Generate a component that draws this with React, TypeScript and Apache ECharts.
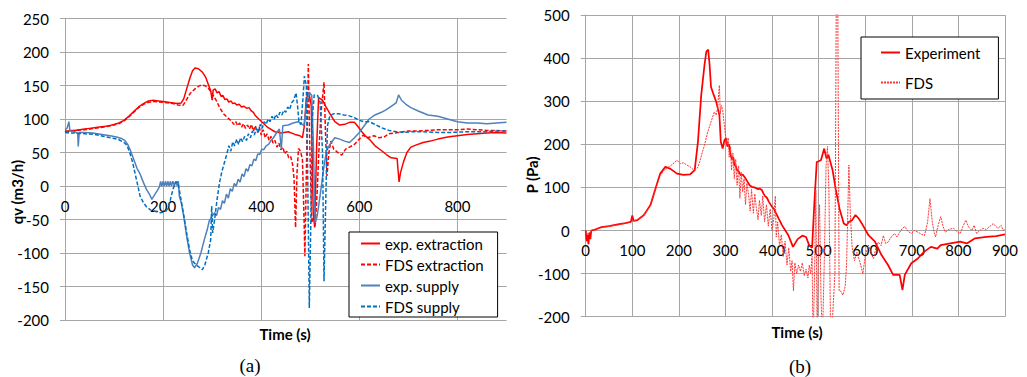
import React, { useEffect, useRef } from "react";
import * as echarts from "echarts";

// ---- (a) flow rates, [time s, qv m3/h]
const expExtraction: number[][] = [[0,82],[5,80],[10,83],[20,83],[30,84],[40,85],[50,86],[60,87],[70,88],[80,89],[90,90],[100,92],[110,94],[120,98],[130,104],[140,111],[150,118],[160,123],[170,127],[180,128],[190,127],[200,126],[210,125],[220,124],[230,123],[237,124],[242,130],[248,145],[255,162],[260,172],[265,176],[272,175],[280,170],[287,162],[292,152],[297,142],[300,128],[302,143],[306,145],[310,139],[314,141],[318,134],[322,135],[326,129],[330,130],[334,125],[338,127],[342,123],[346,124],[350,121],[355,122],[360,118],[365,119],[370,116],[375,117],[380,112],[384,110],[387,106],[395,100],[401,96],[414,87],[428,81],[441,79],[455,81],[469,77],[479,75],[484,72],[488,90],[492,132],[498,136],[502,120],[506,-40],[509,-62],[513,60],[517,132],[525,128],[532,118],[540,108],[550,96],[560,91],[570,92],[580,95],[590,95],[598,88],[605,81],[612,75],[620,70],[632,60],[645,53],[655,47],[665,42],[677,41],[681,6],[684,20],[690,36],[697,50],[705,58],[715,61],[730,65],[745,67],[760,70],[780,73],[800,75],[820,77],[840,78],[860,79],[880,80],[900,79]];
const fdsExtraction: number[][] = [[0,82],[10,82],[20,83],[40,84],[60,86],[80,88],[100,91],[110,93],[120,97],[130,103],[140,110],[150,117],[160,122],[170,125],[180,126],[200,125],[220,123],[230,121],[240,120],[245,125],[255,138],[265,145],[275,150],[285,150],[292,146],[300,138],[308,128],[316,116],[323,108],[330,103],[336,99],[340,97],[344,92],[348,96],[352,90],[356,94],[360,88],[364,93],[368,86],[372,91],[376,85],[380,92],[384,82],[388,90],[392,80],[396,88],[400,76],[404,84],[408,72],[412,78],[416,68],[420,74],[424,64],[428,68],[432,58],[436,64],[440,54],[444,58],[448,48],[452,52],[456,42],[460,44],[464,32],[467,10],[470,-62],[473,20],[476,56],[480,52],[484,40],[487,-40],[489,-105],[492,20],[496,182],[499,60],[503,-55],[507,-45],[510,-60],[514,-10],[518,60],[522,110],[528,155],[531,80],[534,15],[538,50],[542,67],[548,55],[556,50],[564,46],[572,55],[580,58],[590,62],[600,70],[608,76],[615,72],[622,73],[630,75],[640,72],[650,73],[660,78],[670,79],[680,80],[690,81],[700,82],[720,82],[740,83],[760,84],[780,84],[800,84],[820,85],[840,84],[860,83],[880,83],[900,82]];
const expSupply: number[][] = [[0,84],[4,86],[8,96],[10,82],[20,81],[26,78],[27,59],[29,80],[40,80],[57,79],[75,77],[92,75],[105,73],[115,71],[122,68],[128,62],[134,52],[140,40],[147,26],[153,18],[160,5],[166,-5],[172,-12],[177,-20],[182,-14],[187,-8],[192,-2],[195,7],[197,-1],[200,7],[202,0],[205,7],[207,0],[210,7],[212,0],[215,7],[217,0],[220,7],[223,0],[226,7],[229,0],[231,7],[233,-15],[237,-25],[242,-45],[248,-75],[254,-100],[260,-118],[264,-122],[270,-115],[277,-100],[284,-80],[290,-65],[294,-52],[300,-45],[305,-40],[309,-44],[313,-32],[317,-35],[321,-22],[325,-26],[329,-12],[333,-18],[337,-4],[341,-8],[345,4],[349,0],[353,10],[357,6],[361,18],[365,14],[369,26],[373,22],[377,32],[381,30],[385,40],[389,38],[393,48],[397,47],[401,55],[405,54],[410,60],[415,62],[420,68],[425,72],[430,78],[437,85],[441,55],[444,90],[455,91],[465,94],[475,96],[482,93],[487,90],[492,120],[498,140],[503,135],[506,70],[510,-55],[514,-45],[518,-25],[523,2],[528,30],[533,52],[540,62],[550,72],[560,70],[570,67],[580,65],[590,72],[600,80],[610,90],[620,100],[632,106],[645,110],[655,114],[665,119],[675,124],[680,136],[686,128],[695,122],[705,117],[720,112],[740,106],[760,104],[780,100],[800,96],[820,94],[840,94],[860,93],[880,94],[900,95]];
const fdsSupply: number[][] = [[0,80],[10,79],[20,79],[40,78],[60,77],[80,74],[100,71],[110,69],[120,65],[126,61],[132,50],[138,35],[143,18],[148,2],[153,-15],[160,-25],[166,-31],[175,-36],[185,-38],[195,-40],[205,-38],[210,-33],[215,-20],[220,-5],[225,5],[230,6],[234,-10],[240,-35],[248,-70],[254,-95],[260,-112],[268,-118],[275,-122],[280,-125],[285,-118],[292,-100],[297,-80],[299,-30],[301,-70],[305,-50],[310,-20],[315,5],[320,22],[325,35],[330,48],[334,60],[338,52],[342,66],[346,60],[350,70],[354,62],[358,72],[362,66],[366,74],[370,68],[374,78],[378,72],[382,82],[386,76],[390,86],[394,80],[398,92],[402,86],[406,96],[410,92],[414,100],[418,96],[422,104],[426,99],[430,107],[434,102],[438,110],[442,106],[446,113],[450,110],[454,118],[458,114],[462,124],[466,128],[471,139],[474,120],[477,95],[481,92],[485,130],[488,164],[492,150],[495,0],[498,-182],[501,-60],[504,100],[508,136],[515,135],[520,125],[525,50],[528,-142],[531,-40],[535,90],[540,105],[548,108],[558,108],[568,106],[578,105],[590,102],[600,98],[610,96],[620,96],[632,92],[645,87],[660,83],[676,81],[690,80],[710,81],[730,81],[760,80],[790,80],[820,81],[850,81],[880,82],[900,82]];

// ---- (b) pressure, [time s, P Pa]
const expPressure: number[][] = [[0,0],[2,-25],[4,-10],[6,-32],[8,-5],[10,-20],[12,0],[20,2],[34,8],[50,10],[69,14],[85,17],[97,20],[100,35],[103,22],[111,24],[125,36],[139,59],[150,98],[160,132],[171,148],[182,143],[196,132],[210,129],[224,130],[234,140],[241,206],[248,314],[255,384],[259,415],[263,420],[266,384],[269,333],[275,314],[280,299],[287,268],[290,206],[294,190],[298,210],[301,214],[304,195],[308,200],[311,175],[314,165],[317,170],[319,152],[322,150],[325,140],[329,136],[333,128],[337,130],[343,121],[348,112],[352,105],[357,101],[362,100],[366,98],[370,96],[374,97],[378,94],[382,85],[385,80],[389,76],[393,67],[397,60],[400,55],[404,50],[407,43],[411,35],[414,28],[418,20],[421,13],[435,-11],[445,-38],[455,-20],[465,-12],[473,-15],[480,-35],[486,-40],[491,67],[496,159],[505,163],[512,190],[517,167],[521,176],[530,140],[537,94],[545,50],[554,16],[560,12],[565,20],[572,24],[579,36],[586,28],[593,16],[607,-11],[621,-26],[635,-57],[649,-80],[660,-103],[674,-103],[680,-138],[685,-103],[699,-76],[713,-65],[727,-49],[741,-38],[755,-42],[762,-34],[783,-30],[804,-26],[818,-30],[836,-18],[860,-15],[881,-13],[900,-9]];
const fdsPressure: number[][] = [[0,0],[5,-10],[10,-2],[20,2],[35,7],[50,10],[70,13],[90,18],[100,22],[110,25],[125,36],[140,60],[150,95],[160,128],[170,142],[182,150],[190,157],[196,163],[203,155],[210,157],[217,152],[224,148],[232,140],[240,145],[245,160],[250,180],[255,198],[262,229],[269,252],[276,275],[280,268],[283,283],[287,337],[289,270],[291,290],[294,280],[297,250],[300,221],[303,200],[306,215],[308,170],[311,195],[313,140],[316,180],[319,120],[322,165],[325,105],[328,150],[331,75],[334,135],[337,90],[340,120],[343,60],[346,110],[350,80],[353,45],[356,95],[360,40],[363,85],[366,55],[370,25],[373,70],[377,35],[380,80],[384,20],[388,60],[392,10],[396,50],[400,0],[404,30],[407,80],[409,-15],[412,20],[416,-35],[420,-10],[424,-60],[428,-25],[432,-80],[436,-40],[440,-95],[443,-70],[446,-140],[449,-75],[453,-100],[457,-80],[461,-95],[465,-75],[469,-105],[473,-90],[477,-110],[480,-80],[483,-100],[486,-60],[488,-260],[491,-120],[494,95],[497,-260],[500,20],[502,60],[505,-150],[508,-260],[512,-80],[516,150],[519,195],[522,100],[526,-260],[530,-200],[535,-100],[538,560],[541,560],[544,-140],[547,-140],[552,-150],[557,-130],[560,-80],[563,60],[565,152],[568,40],[572,-40],[577,-70],[582,-50],[588,-70],[595,-100],[600,-60],[607,-34],[613,-55],[618,-65],[623,-40],[628,-27],[634,-35],[639,-12],[644,-30],[649,-27],[656,-15],[663,-7],[668,-15],[674,-4],[680,5],[685,9],[692,-2],[699,-7],[706,0],[713,-4],[720,-8],[727,-12],[731,5],[734,20],[739,74],[744,20],[748,-5],[751,-15],[756,10],[762,32],[767,10],[772,-4],[780,3],[790,5],[797,-3],[804,-7],[810,10],[816,24],[822,8],[829,0],[834,12],[839,-7],[846,0],[853,5],[860,2],[868,10],[875,16],[880,10],[885,5],[892,12],[896,0],[900,3]];

const legendA = ["exp. extraction", "FDS extraction", "exp. supply", "FDS supply"];
const legendB = ["Experiment", "FDS"];
const titleA = "qv (m3/h)";
const titleB = "P (Pa)";
const xTitle = "Time (s)";

const FONT = "Lato, 'Open Sans', sans-serif";
const GRID = "#A6A6A6";

function xAxisCfg(grid: number, interval: number, hideMax: boolean, offset: number) {
  return {
    type: "value", gridIndex: grid, min: 0, max: 900, interval,
    position: "bottom", offset,
    axisLine: { show: true, onZero: false, lineStyle: { color: GRID, width: 1 } },
    axisTick: { show: false },
    axisLabel: { margin: 12, fontSize: 15, color: "#000", fontFamily: FONT, showMaxLabel: !hideMax },
    splitLine: { show: true, showMaxLine: !hideMax, lineStyle: { color: GRID, width: 1 } },
  };
}
function yAxisCfg(grid: number, min: number, max: number, interval: number) {
  return {
    type: "value", gridIndex: grid, min, max, interval,
    axisLine: { show: true, onZero: false, lineStyle: { color: GRID, width: 1 } },
    axisTick: { show: true, length: 5, lineStyle: { color: GRID } },
    axisLabel: { margin: 16, fontSize: 15, color: "#000", fontFamily: FONT },
    splitLine: { show: true, lineStyle: { color: GRID, width: 1 } },
  };
}
function lineSeries(name: string, data: number[][], idx: number, color: string, width: number, type: any) {
  return {
    name, type: "line", data, xAxisIndex: idx, yAxisIndex: idx,
    symbol: "none", showSymbol: false, clip: true,
    lineStyle: { color, width, type },
    itemStyle: { color },
  };
}

export default function App() {
  const ref = useRef<HTMLDivElement>(null);
  useEffect(() => {
    const chart = echarts.init(ref.current!, null, { renderer: "svg" });
    const legendCommon = {
      orient: "vertical", itemWidth: 19, itemHeight: 14,
      borderColor: "#000", borderWidth: 1, backgroundColor: "#fff",
      itemStyle: { opacity: 0 },
      textStyle: { fontSize: 15, fontFamily: FONT, color: "#000" },
      selectedMode: false,
    };
    const titleFont = `bold 15px ${FONT}`;
    chart.setOption({
      animation: false,
      backgroundColor: "#fff",
      grid: [
        { left: 65, top: 18.5, width: 441.5, height: 301.5 },
        { left: 585.7, top: 15, width: 426.3, height: 301.7 },
      ],
      // x axes are shifted up from the grid bottom to the zero line
      xAxis: [xAxisCfg(0, 200, true, -134), xAxisCfg(1, 100, false, -86.2)],
      yAxis: [yAxisCfg(0, -200, 250, 50), yAxisCfg(1, -200, 500, 100)],
      legend: [
        { ...legendCommon, data: legendA, left: 349, top: 232, itemGap: 6, padding: [4, 14, 3, 11] },
        { ...legendCommon, data: legendB, left: 861, top: 37, itemGap: 15, padding: [8, 18, 9, 19] },
      ],
      series: [
        lineSeries(legendA[0], expExtraction, 0, "#FF0000", 1.5, "solid"),
        lineSeries(legendA[1], fdsExtraction, 0, "#FF0000", 1.5, [4, 2]),
        lineSeries(legendA[2], expSupply, 0, "#4F81BD", 1.5, "solid"),
        lineSeries(legendA[3], fdsSupply, 0, "#0070C0", 1.5, [4, 2]),
        lineSeries(legendB[0], expPressure, 1, "#FF0000", 1.75, "solid"),
        lineSeries(legendB[1], fdsPressure, 1, "#FF3333", 1, [2, 1]),
      ],
      graphic: [
        { type: "text", x: 17, y: 192, rotation: Math.PI / 2, style: { text: titleA, font: titleFont, fill: "#000", textAlign: "center", textVerticalAlign: "middle" } },
        { type: "text", x: 532, y: 175, rotation: Math.PI / 2, style: { text: titleB, font: titleFont, fill: "#000", textAlign: "center", textVerticalAlign: "middle" } },
        { type: "text", x: 285, y: 334, style: { text: xTitle, font: titleFont, fill: "#000", textAlign: "center", textVerticalAlign: "middle" } },
        { type: "text", x: 797, y: 332, style: { text: xTitle, font: titleFont, fill: "#000", textAlign: "center", textVerticalAlign: "middle" } },
        { type: "text", x: 250, y: 365, style: { text: "(a)", font: "19px 'Liberation Serif', serif", fill: "#000", textAlign: "center", textVerticalAlign: "middle" } },
        { type: "text", x: 800, y: 366, style: { text: "(b)", font: "19px 'Liberation Serif', serif", fill: "#000", textAlign: "center", textVerticalAlign: "middle" } },
      ],
    });
    return () => chart.dispose();
  }, []);
  return <div ref={ref} style={{ position: "fixed", left: 0, top: 0, width: 1021, height: 377, background: "#fff" }} />;
}
